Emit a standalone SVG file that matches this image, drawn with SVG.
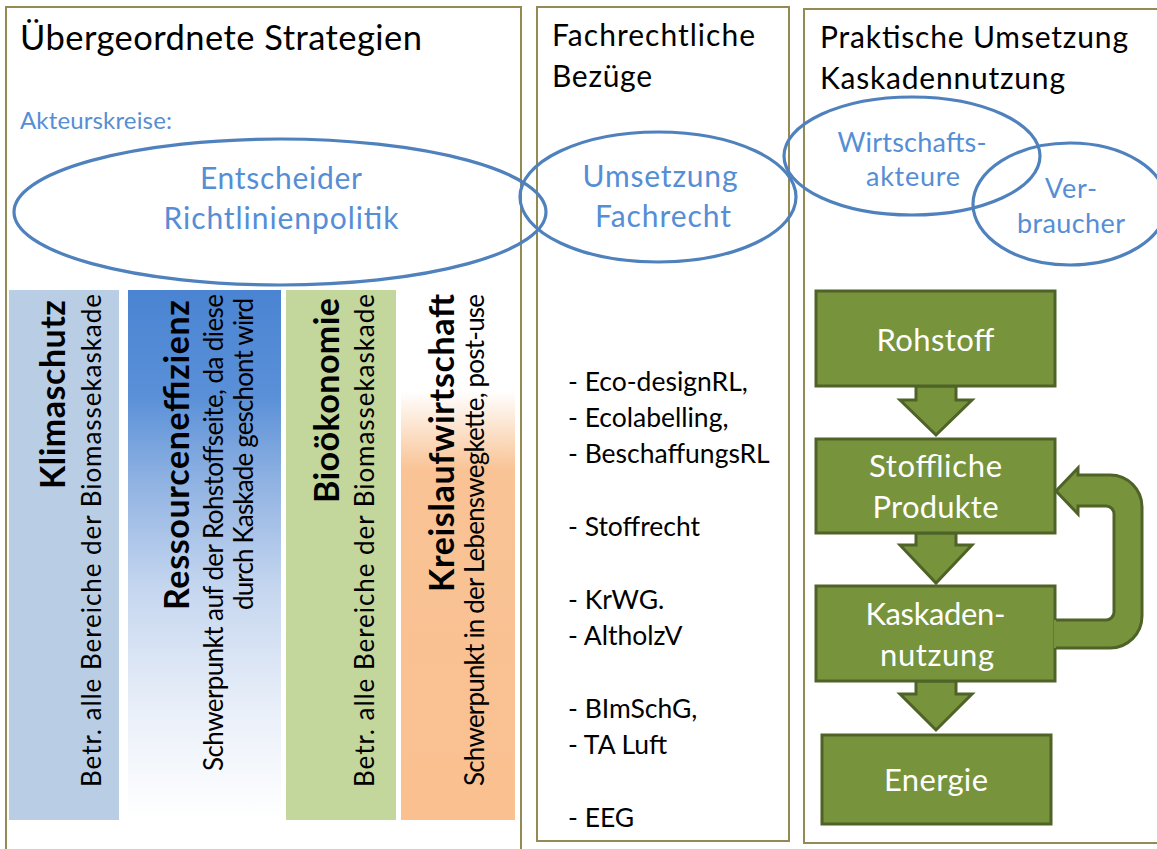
<svg xmlns="http://www.w3.org/2000/svg" width="1157" height="849" viewBox="0 0 1157 849">
<style>
  text { font-family: Lato, "Open Sans", "Liberation Sans", sans-serif; }
  .panel { fill: #ffffff; stroke: #948a54; stroke-width: 2; }
  .title { font-size: 34.5px; fill: #000000; }
  .title2 { font-size: 30px; fill: #000000; }
  .blue { fill: #558ed5; }
  .ell { fill: none; stroke: #4f81bd; stroke-width: 3.2; }
  .bt { font-size: 34px; font-weight: bold; fill: #000000; }
  .st { font-size: 26px; fill: #000000; }
  .list { font-size: 26.5px; fill: #000000; }
  .gbox { fill: #77933c; stroke: #4f6228; stroke-width: 3; }
  .gfill { fill: #77933c; }
  .gline { fill: none; stroke: #4f6228; stroke-width: 3; stroke-linejoin: miter; }
  .gt { font-size: 31px; fill: #ffffff; text-anchor: middle; }
</style>
<defs>
  <linearGradient id="gRes" x1="0" y1="0" x2="0" y2="1">
    <stop offset="0" stop-color="#4a84d2"/>
    <stop offset="0.2" stop-color="#5a90d8"/>
    <stop offset="0.36" stop-color="#8fb2e2"/>
    <stop offset="0.56" stop-color="#c5d6ef"/>
    <stop offset="0.8" stop-color="#eaf0f9"/>
    <stop offset="1" stop-color="#ffffff"/>
  </linearGradient>
  <linearGradient id="gKreis" x1="0" y1="0" x2="0" y2="1">
    <stop offset="0" stop-color="#ffffff"/>
    <stop offset="0.19" stop-color="#ffffff"/>
    <stop offset="0.34" stop-color="#f9c395"/>
    <stop offset="1" stop-color="#fac090"/>
  </linearGradient>
</defs>

<g id="panels">
  <rect id="panel-strategien" class="panel" x="6" y="7" width="515" height="860"/>
  <rect id="panel-fachrecht" class="panel" x="537" y="7" width="252" height="834"/>
  <rect id="panel-praxis" class="panel" x="804" y="9" width="370" height="834"/>
</g>

<g id="titles">
  <text class="title" x="20" y="50" textLength="402">Übergeordnete Strategien</text>
  <text class="title2" x="552" y="46" textLength="203">Fachrechtliche</text>
  <text class="title2" x="552" y="87" textLength="100">Bezüge</text>
  <text class="title2" x="820" y="48" textLength="308">Praktische Umsetzung</text>
  <text class="title2" x="820" y="89" textLength="245">Kaskadennutzung</text>
  <text class="blue" x="20" y="129" font-size="24" textLength="152">Akteurskreise:</text>
</g>

<g id="akteure">
  <g id="entscheider">
    <ellipse class="ell" cx="280" cy="212" rx="266" ry="73"/>
    <text class="blue" x="281" y="189" font-size="30" text-anchor="middle" textLength="162">Entscheider</text>
    <text class="blue" x="281" y="229" font-size="30" text-anchor="middle" textLength="235">Richtlinienpolitik</text>
  </g>
  <g id="umsetzung-fachrecht">
    <ellipse class="ell" cx="658" cy="197" rx="138" ry="65"/>
    <text class="blue" x="660" y="187" font-size="30" text-anchor="middle" textLength="155">Umsetzung</text>
    <text class="blue" x="663" y="227" font-size="30" text-anchor="middle" textLength="136">Fachrecht</text>
  </g>
  <g id="wirtschaftsakteure">
    <ellipse class="ell" cx="912" cy="156" rx="128" ry="59"/>
    <text class="blue" x="912" y="152" font-size="27" text-anchor="middle" textLength="149">Wirtschafts-</text>
    <text class="blue" x="913" y="186" font-size="27" text-anchor="middle" textLength="94">akteure</text>
  </g>
  <g id="verbraucher">
    <ellipse class="ell" cx="1070" cy="204" rx="97" ry="61"/>
    <text class="blue" x="1071" y="198" font-size="27" text-anchor="middle" textLength="52">Ver-</text>
    <text class="blue" x="1071" y="233" font-size="27" text-anchor="middle" textLength="108">braucher</text>
  </g>
</g>

<g id="strategien">
  <g id="klimaschutz">
    <rect x="9" y="290" width="110" height="530" fill="#b9cde5"/>
    <text class="bt" font-size="35" transform="translate(65,300) rotate(-90)" text-anchor="end" textLength="189">Klimaschutz</text>
    <text class="st" transform="translate(101,294) rotate(-90)" text-anchor="end" textLength="493">Betr. alle Bereiche der Biomassekaskade</text>
  </g>
  <g id="ressourceneffizienz">
    <rect x="128" y="290" width="153" height="530" fill="url(#gRes)"/>
    <text class="bt" font-size="33" transform="translate(189,300) rotate(-90)" text-anchor="end" textLength="310">Ressourceneffizienz</text>
    <text class="st" font-size="23" transform="translate(223,294) rotate(-90)" text-anchor="end" textLength="477">Schwerpunkt auf der Rohstoffseite, da diese</text>
    <text class="st" font-size="23" transform="translate(253,298) rotate(-90)" text-anchor="end" textLength="312">durch Kaskade geschont wird</text>
  </g>
  <g id="biooekonomie">
    <rect x="286" y="290" width="110" height="530" fill="#c3d69b"/>
    <text class="bt" font-size="35" transform="translate(339,298) rotate(-90)" text-anchor="end" textLength="205">Bioökonomie</text>
    <text class="st" transform="translate(374,294) rotate(-90)" text-anchor="end" textLength="493">Betr. alle Bereiche der Biomassekaskade</text>
  </g>
  <g id="kreislaufwirtschaft">
    <rect x="401" y="290" width="114" height="530" fill="url(#gKreis)"/>
    <text class="bt" font-size="33" transform="translate(454,294) rotate(-90)" text-anchor="end" textLength="298">Kreislaufwirtschaft</text>
    <text class="st" font-size="24" transform="translate(484,294) rotate(-90)" text-anchor="end" textLength="492">Schwerpunkt in der Lebenswegkette, post-use</text>
  </g>
</g>

<g id="fachrecht-liste">
  <text class="list" x="568" y="391">- Eco-designRL,</text>
  <text class="list" x="568" y="427">- Ecolabelling,</text>
  <text class="list" x="568" y="463">- BeschaffungsRL</text>
  <text class="list" x="568" y="536">- Stoffrecht</text>
  <text class="list" x="568" y="609">- KrWG.</text>
  <text class="list" x="568" y="645">- AltholzV</text>
  <text class="list" x="568" y="718">- BImSchG,</text>
  <text class="list" x="568" y="754">- TA Luft</text>
  <text class="list" x="568" y="827">- EEG</text>
</g>

<g id="connectors">
  <path id="arrow-rohstoff-stofflich" class="gbox" d="M916,386 L956,386 L956,400 L972,400 L936,435 L900,400 L916,400 Z"/>
  <path id="arrow-stofflich-kaskade" class="gbox" d="M916,533 L956,533 L956,545 L972,545 L936,583 L900,545 L916,545 Z"/>
  <path id="arrow-kaskade-energie" class="gbox" d="M916,681 L956,681 L956,694 L972,694 L936,730 L900,694 L916,694 Z"/>
</g>

<g id="rohstoff">
  <rect class="gbox" x="816" y="291" width="239" height="95"/>
  <text class="gt" x="935.5" y="351" textLength="118">Rohstoff</text>
</g>
<g id="stoffliche-produkte">
  <rect class="gbox" x="816" y="439" width="239" height="94"/>
  <text class="gt" x="935.5" y="477" textLength="133">Stoffliche</text>
  <text class="gt" x="935.5" y="518" textLength="126">Produkte</text>
</g>
<g id="kaskadennutzung">
  <rect class="gbox" x="816" y="586" width="239" height="95"/>
  <text class="gt" x="935.5" y="625" textLength="140">Kaskaden-</text>
  <text class="gt" x="937" y="666" textLength="114">nutzung</text>
</g>
<g id="energie">
  <rect class="gbox" x="822" y="735" width="229" height="89"/>
  <text class="gt" x="936" y="791" textLength="104">Energie</text>
</g>

<g id="feedback-connector">
  <path class="gfill" d="M1054,648 L1110,648 A32,32 0 0 0 1142,616 L1142,507 A32,32 0 0 0 1110,475 L1078,475 L1078,468 L1056,491 L1078,514 L1078,506 L1106,506 A8,8 0 0 1 1114,514 L1114,612 A8,8 0 0 1 1106,620 L1054,620 Z"/>
  <path class="gline" d="M1056,648 L1110,648 A32,32 0 0 0 1142,616 L1142,507 A32,32 0 0 0 1110,475 L1078,475 L1078,468 L1056,491 L1078,514 L1078,506 L1106,506 A8,8 0 0 1 1114,514 L1114,612 A8,8 0 0 1 1106,620 L1056,620"/>
</g>
</svg>
